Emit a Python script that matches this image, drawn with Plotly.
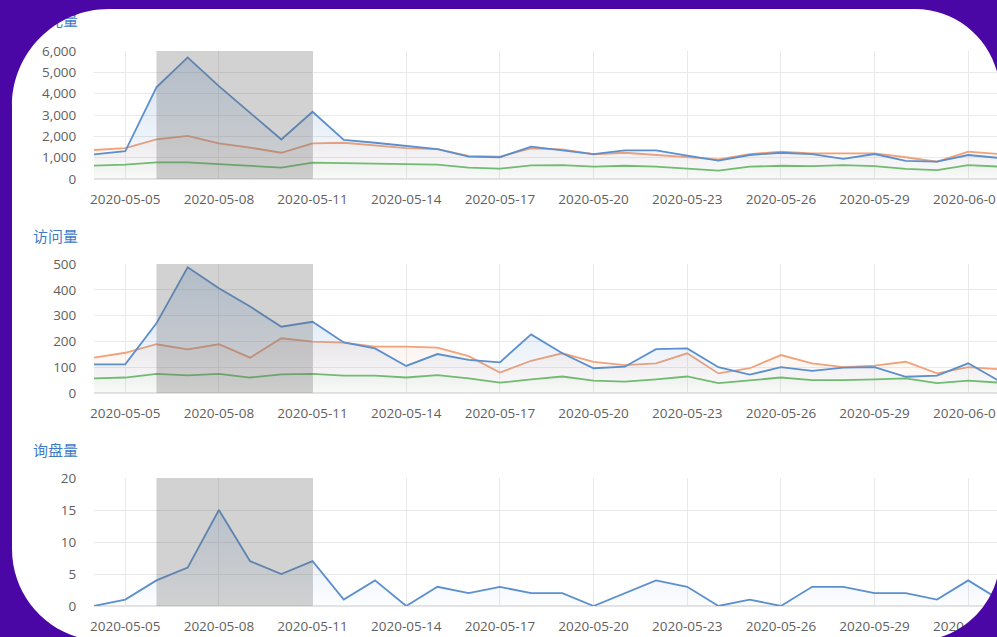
import plotly.graph_objects as go
import pandas as pd

# ---------------- data ----------------
dates = pd.date_range("2020-05-04", periods=30, freq="D")
tick_dates = pd.date_range("2020-05-05", "2020-06-01", freq="3D")
tick_labels = [d.strftime("%Y-%m-%d") for d in tick_dates]
titles = ["曝光量", "访问量", "询盘量"]
highlight_start = "2020-05-06"
highlight_end = "2020-05-11"

exposure_blue = [1150, 1300, 4300, 5700, 4350, 3100, 1850, 3150, 1830, 1700,
                 1560, 1400, 1050, 1020, 1520, 1330, 1170, 1340, 1340, 1100,
                 860, 1125, 1230, 1170, 940, 1170, 845, 810, 1125, 985]
exposure_orange = [1360, 1450, 1860, 2020, 1670, 1470, 1230, 1670, 1700, 1560,
                   1450, 1400, 1080, 1050, 1440, 1390, 1160, 1230, 1125, 1050,
                   920, 1170, 1280, 1200, 1200, 1200, 1020, 810, 1280, 1170]
exposure_green = [625, 670, 780, 780, 700, 625, 530, 765, 735, 710,
                  690, 670, 530, 485, 640, 650, 580, 620, 580, 500,
                  390, 580, 620, 600, 650, 600, 470, 420, 650, 580]

visits_blue = [111, 111, 270, 487, 406, 335, 257, 276, 196, 173,
               105, 151, 128, 119, 227, 154, 96, 102, 170, 173,
               100, 71, 100, 86, 98, 100, 63, 67, 115, 46]
visits_orange = [137, 156, 189, 169, 189, 137, 212, 199, 195, 180,
                 180, 176, 143, 79, 125, 154, 121, 108, 115, 154,
                 76, 96, 147, 115, 100, 106, 121, 76, 100, 92]
visits_green = [57, 60, 74, 68, 74, 60, 72, 74, 67, 67,
                60, 69, 57, 40, 53, 64, 48, 44, 53, 64,
                38, 48, 60, 50, 50, 53, 57, 38, 48, 40]

inquiries = [0, 1, 4, 6, 15, 7, 5, 7, 1, 4,
             0, 3, 2, 3, 2, 2, 0, 2, 4, 3,
             0, 1, 0, 3, 3, 2, 2, 1, 4, 1]

# ---------------- styling / layout geometry ----------------
W, H = 997, 637
BLUE = (91, 143, 205)
ORANGE = (240, 162, 122)
GREEN = (108, 190, 108)
PURPLE = "#4b06a6"
FONT = "Open Sans, Noto Sans CJK SC, sans-serif"
TICK_COLOR = "#5f5f5f"

X_LEFT_PX = 94          # pixel of first date
PX_PER_DAY = (968 - 125) / 27
x_end = dates[0] + pd.Timedelta(days=(W - X_LEFT_PX) / PX_PER_DAY)

panels = [
    dict(top=51, bottom=179, rng=[0, 6000], dtick=1000, fmt=",d", title_py=22,
         series=[(exposure_green, GREEN), (exposure_orange, ORANGE), (exposure_blue, BLUE)]),
    dict(top=264, bottom=393, rng=[0, 500], dtick=100, fmt="d", title_py=238,
         series=[(visits_green, GREEN), (visits_orange, ORANGE), (visits_blue, BLUE)]),
    dict(top=478, bottom=606, rng=[0, 20], dtick=5, fmt="d", title_py=452,
         series=[(inquiries, BLUE)]),
]


def rgba(c, a):
    return f"rgba({c[0]},{c[1]},{c[2]},{a})"


fig = go.Figure()
shapes = []
layout = dict(
    width=W, height=H, autosize=False,
    margin=dict(l=0, r=0, t=0, b=0, pad=0, autoexpand=False),
    paper_bgcolor="white", plot_bgcolor="rgba(0,0,0,0)", showlegend=False,
    font=dict(family=FONT, size=13.5, color=TICK_COLOR),
)

for i, p in enumerate(panels):
    n = "" if i == 0 else str(i + 1)
    xa, ya = "x" + n, "y" + n
    for vals, col in p["series"]:
        fig.add_trace(go.Scatter(
            x=dates, y=vals, mode="lines", xaxis=xa, yaxis=ya,
            line=dict(color=rgba(col, 1), width=1.8),
            fill="tozeroy",
            fillgradient=dict(type="vertical", start=0, stop=p["rng"][1],
                              colorscale=[[0, rgba(col, 0.02)], [1, rgba(col, 0.28)]]),
            hoverinfo="skip",
        ))
    layout["xaxis" + n] = dict(
        domain=[X_LEFT_PX / W, 1], range=[dates[0], x_end], type="date",
        tickvals=tick_dates, ticktext=tick_labels, showgrid=True,
        gridcolor="#e9e9e9", gridwidth=1, zeroline=False, showline=False,
        ticks="outside", ticklen=8, tickcolor="rgba(0,0,0,0)",
        ticklabeloverflow="allow", automargin=False,
        anchor=ya, tickfont=dict(size=13.5, color=TICK_COLOR),
    )
    layout["yaxis" + n] = dict(
        domain=[1 - p["bottom"] / H, 1 - p["top"] / H], range=p["rng"],
        dtick=p["dtick"], tickformat=p["fmt"], showgrid=True,
        gridcolor="#e9e9e9", gridwidth=1, zeroline=True, zerolinecolor="#e4e4e4",
        showline=False, ticks="outside", ticklen=14, tickcolor="rgba(0,0,0,0)",
        automargin=False,
        anchor=xa, tickfont=dict(size=13.5, color=TICK_COLOR),
    )
    shapes.append(dict(
        type="rect", xref=xa, yref=ya + " domain", x0=highlight_start, x1=highlight_end,
        y0=0, y1=1, fillcolor="rgba(105,105,105,0.3)", line=dict(width=0), layer="above",
    ))

# invisible full-figure overlay axes (pixel units) holding the panel titles,
# so that the purple frame drawn above can clip them like in the reference
fig.add_trace(go.Scatter(
    x=[33] * len(titles), y=[p["title_py"] for p in panels], mode="text",
    text=titles, textposition="middle right",
    textfont=dict(family=FONT, size=15, color="#3f7cc4"),
    xaxis="x4", yaxis="y4", hoverinfo="skip", cliponaxis=False,
))
layout["xaxis4"] = dict(domain=[0, 1], range=[0, W], visible=False, fixedrange=True,
                        anchor="y4", automargin=False)
layout["yaxis4"] = dict(domain=[0, 1], range=[H, 0], visible=False, fixedrange=True,
                        anchor="x4", automargin=False)

# purple surround with rounded white card
L, T, R, B = 12, 9, 1000, 641
rtl, rtr, rbr, rbl = 97, 85, 85, 92
K = 0.5523


def P(x, y):
    return f"{x / W:.5f},{1 - y / H:.5f}"


inner = (
    f"M{P(L + rtl, T)} L{P(R - rtr, T)} "
    f"C{P(R - rtr + K * rtr, T)} {P(R, T + rtr - K * rtr)} {P(R, T + rtr)} "
    f"L{P(R, B - rbr)} "
    f"C{P(R, B - rbr + K * rbr)} {P(R - rbr + K * rbr, B)} {P(R - rbr, B)} "
    f"L{P(L + rbl, B)} "
    f"C{P(L + rbl - K * rbl, B)} {P(L, B - rbl + K * rbl)} {P(L, B - rbl)} "
    f"L{P(L, T + rtl)} "
    f"C{P(L, T + rtl - K * rtl)} {P(L + rtl - K * rtl, T)} {P(L + rtl, T)} Z"
)
outer = "M0,0 L1,0 L1,1 L0,1 Z "
shapes.append(dict(type="path", xref="paper", yref="paper", path=outer + inner,
                   fillcolor=PURPLE, fillrule="evenodd", line=dict(width=0), layer="above"))

layout["shapes"] = shapes
fig.update_layout(**layout)
fig.write_html(
    "out.html",
    config={"displayModeBar": False, "responsive": False},
    post_script="document.body.style.margin='0';document.body.style.overflow='hidden';",
)
